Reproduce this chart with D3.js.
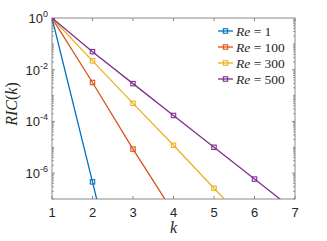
<!DOCTYPE html>
<html>
<head>
<meta charset="utf-8">
<script src="https://cdn.jsdelivr.net/npm/d3@7"></script>
<style>
  body { margin: 0; background: #fff; }
  svg text { font-family: "Liberation Sans", Arial, sans-serif; }
  svg text.ltx { font-family: "Liberation Serif", "Times New Roman", serif; font-style: italic; }
</style>
</head>
<body>
<div id="chart"></div>
<script>
// data
const ks = [1, 2, 3, 4, 5, 6, 7];
const reLabels = ["1", "100", "300", "500"];
const ric1 = [1, 4.6e-7, 1.6e-13];
const ric100 = [1, 3.2e-3, 8.5e-6, 3e-8];
const ric300 = [1, 2.2e-2, 5e-4, 1.2e-5, 2.6e-7, 6e-9];
const ric500 = [1, 5e-2, 2.9e-3, 1.7e-4, 1.0e-5, 5.9e-7, 3.5e-8];
const xTicks = [1, 2, 3, 4, 5, 6, 7];
const yTicks = [0, -2, -4, -6];

const colors = ["#0072BD", "#D95319", "#EDB120", "#7E2F8E"];
const series = [ric1, ric100, ric300, ric500];

const W = 327, H = 241;
const m = { left: 52, right: 32, top: 18, bottom: 42 };

const svg = d3.select("#chart").append("svg").attr("width", W).attr("height", H);

const x = d3.scaleLinear().domain([1, 7]).range([m.left, W - m.right]);
const y = d3.scaleLog().domain([1e-7, 1]).range([H - m.bottom, m.top]);

const axisCol = "#8a8a8a";
const textCol = "#262626";

svg.append("defs").append("clipPath").attr("id", "clip")
  .append("rect")
  .attr("x", m.left).attr("y", m.top)
  .attr("width", W - m.left - m.right).attr("height", H - m.top - m.bottom);

// box
svg.append("rect")
  .attr("x", m.left).attr("y", m.top)
  .attr("width", W - m.left - m.right).attr("height", H - m.top - m.bottom)
  .attr("fill", "none").attr("stroke", axisCol).attr("stroke-width", 1);

// x ticks (bottom and top)
const tl = 3;
xTicks.forEach(t => {
  svg.append("line").attr("x1", x(t)).attr("x2", x(t))
    .attr("y1", H - m.bottom).attr("y2", H - m.bottom - tl).attr("stroke", axisCol);
  svg.append("line").attr("x1", x(t)).attr("x2", x(t))
    .attr("y1", m.top).attr("y2", m.top + tl).attr("stroke", axisCol);
  svg.append("text").attr("x", x(t)).attr("y", H - m.bottom + 18)
    .attr("text-anchor", "middle").attr("font-size", 13).attr("fill", textCol).text(t);
});

// y minor + major ticks on both sides
for (let e = -7; e < 0; e++) {
  for (let k = 1; k < 10; k++) {
    const v = k * Math.pow(10, e);
    const major = k === 1 && yTicks.includes(e);
    const len = major ? tl : 1.8;
    svg.append("line").attr("x1", m.left).attr("x2", m.left + len)
      .attr("y1", y(v)).attr("y2", y(v)).attr("stroke", axisCol);
    svg.append("line").attr("x1", W - m.right).attr("x2", W - m.right - len)
      .attr("y1", y(v)).attr("y2", y(v)).attr("stroke", axisCol);
  }
}

yTicks.forEach(e => {
  const tx = svg.append("text").attr("x", m.left - 4).attr("y", y(Math.pow(10, e)) + 5)
    .attr("text-anchor", "end").attr("font-size", 13).attr("fill", textCol);
  tx.append("tspan").text("10");
  tx.append("tspan").attr("dy", -6).attr("font-size", 9).text(e);
});

// lines + markers
const line = d3.line().x((d, i) => x(ks[i])).y(d => y(d));
const plot = svg.append("g").attr("clip-path", "url(#clip)");
series.forEach((s, si) => {
  plot.append("path").datum(s).attr("d", line)
    .attr("fill", "none").attr("stroke", colors[si]).attr("stroke-width", 1.3);
  plot.selectAll(null).data(s).enter().append("rect")
    .attr("x", (d, i) => x(ks[i]) - 2.2).attr("y", d => y(d) - 2.2)
    .attr("width", 4.4).attr("height", 4.4)
    .attr("fill", "none").attr("stroke", colors[si]).attr("stroke-width", 1.1);
});

// legend
const lg = svg.append("g");
reLabels.forEach((r, i) => {
  const ly = 31 + i * 16;
  lg.append("line").attr("x1", 218).attr("x2", 233).attr("y1", ly).attr("y2", ly)
    .attr("stroke", colors[i]).attr("stroke-width", 1.3);
  lg.append("rect").attr("x", 223.3).attr("y", ly - 2.2).attr("width", 4.4).attr("height", 4.4)
    .attr("fill", "none").attr("stroke", colors[i]).attr("stroke-width", 1.1);
  const t = lg.append("text").attr("x", 236).attr("y", ly + 4.5).attr("font-size", 13.5)
    .attr("fill", textCol).style("font-family", "Liberation Serif, serif");
  t.append("tspan").attr("font-style", "italic").text("Re");
  t.append("tspan").text(" = " + r);
});

// axis labels
svg.append("text").attr("class", "ltx").attr("x", x(4)).attr("y", H - 8)
  .attr("text-anchor", "middle").attr("font-size", 16).attr("fill", textCol).text("k");

const yl = svg.append("text").attr("class", "ltx")
  .attr("transform", `translate(17,104) rotate(-90)`)
  .attr("text-anchor", "middle").attr("font-size", 16).attr("fill", textCol);
yl.append("tspan").text("RIC");
yl.append("tspan").style("font-style", "normal").text("(");
yl.append("tspan").text("k");
yl.append("tspan").style("font-style", "normal").text(")");
</script>
</body>
</html>
